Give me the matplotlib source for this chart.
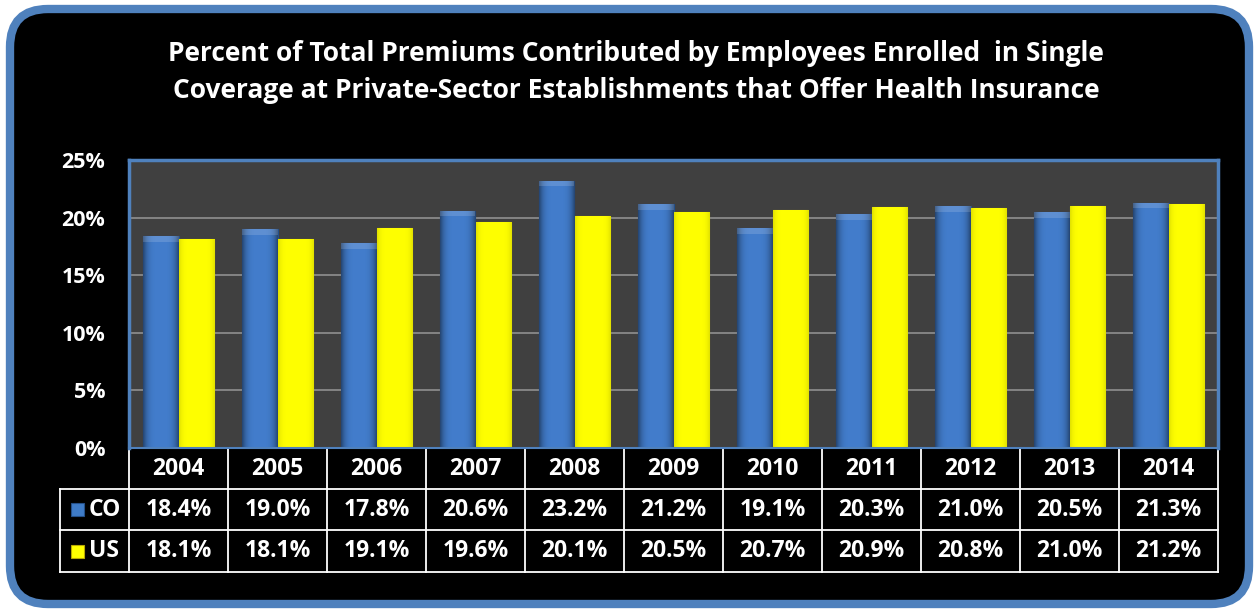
import numpy as np
import matplotlib.pyplot as plt
from matplotlib.patches import FancyBboxPatch, Rectangle

years = ['2004', '2005', '2006', '2007', '2008', '2009', '2010', '2011', '2012', '2013', '2014']
co = [18.4, 19.0, 17.8, 20.6, 23.2, 21.2, 19.1, 20.3, 21.0, 20.5, 21.3]
us = [18.1, 18.1, 19.1, 19.6, 20.1, 20.5, 20.7, 20.9, 20.8, 21.0, 21.2]
series = ['CO', 'US']
title = ('Percent of Total Premiums Contributed by Employees Enrolled  in Single\n'
         'Coverage at Private-Sector Establishments that Offer Health Insurance')

plt.rcParams['font.family'] = ['Open Sans', 'DejaVu Sans']
plt.rcParams['font.weight'] = 'bold'

W, H = 1259, 614
fig = plt.figure(figsize=(W / 100, H / 100), dpi=100, facecolor='white')

# background canvas in pixel units
bg = fig.add_axes([0, 0, 1, 1])
bg.set_xlim(0, W)
bg.set_ylim(H, 0)
bg.axis('off')
bg.add_patch(FancyBboxPatch((10, 9), W - 20, H - 19,
                            boxstyle='round,pad=0,rounding_size=38',
                            fc='black', ec='#4f81bd', lw=6))
bg.text(636, 72, title, ha='center', va='center', color='white',
        fontsize=19, fontweight='bold', linespacing=1.5)

# plot area
left, right, top, bottom = 129, 1218, 160, 448
ax = fig.add_axes([left / W, 1 - bottom / H, (right - left) / W, (bottom - top) / H])
ax.set_facecolor('#404040')
for s in ax.spines.values():
    s.set_color('#4f81bd')
    s.set_linewidth(2.5)
ax.spines['bottom'].set_linewidth(1.5)
ax.set_yticks(np.arange(0, 26, 5))
ax.set_yticklabels([f'{v}%' for v in range(0, 26, 5)], color='white', fontsize=15.5)
ax.tick_params(axis='y', length=0, pad=17)
ax.set_xticks([])
ax.grid(axis='y', color='#8a8a8a', lw=1.3)
ax.set_axisbelow(True)

x = np.arange(len(years))
bw = 0.36
blue_bars = ax.bar(x - bw / 2, co, bw, color='#3f7cc8', edgecolor='#24508a', lw=0.8, zorder=2)
yel_bars = ax.bar(x + bw / 2, us, bw, color='#ffff00', edgecolor='#b8a800', lw=0.8, zorder=2)

# horizontal shading across each bar
t = np.linspace(0, 1, 64)
shade = 1 - 0.45 * (2 * t - 1) ** 4
for bars, base in ((blue_bars, np.array([0.26, 0.49, 0.80])),
                   (yel_bars, np.array([1.0, 1.0, 0.0]))):
    for b in bars:
        if base[2] > 0:
            img = np.clip(base[None, None, :] * shade[None, :, None], 0, 1)
        else:
            img = np.ones((1, 64, 3)) * base
            img[..., :2] *= (1 - 0.12 * (2 * t - 1) ** 6)[None, :, None]
        x0, y0 = b.get_x(), b.get_y()
        im = ax.imshow(img, extent=(x0, x0 + b.get_width(), y0, y0 + b.get_height()),
                       aspect='auto', zorder=2.5, interpolation='bicubic')
        im.set_clip_path(b)
        # lighter bevel at the top of the blue bars
        if base[2] > 0:
            ax.add_patch(Rectangle((x0, b.get_height() - 0.5), b.get_width(), 0.5,
                                   fc='white', alpha=0.15, lw=0, zorder=2.6))
ax.set_xlim(-0.5, len(years) - 0.5)
ax.set_ylim(0, 25)

# data table under the plot
col_w = (right - left) / len(years)
rows = [449, 489, 530, 572]
tleft = 60
lc = 'white'
bg.plot([left, left], [bottom, rows[3]], color=lc, lw=1.3)
for i in range(len(years)):
    xe = left + col_w * (i + 1)
    bg.plot([xe, xe], [bottom, rows[3]], color=lc, lw=1.3)
for r in rows[1:]:
    bg.plot([tleft, right], [r, r], color=lc, lw=1.3)
bg.plot([tleft, tleft], [rows[1], rows[3]], color=lc, lw=1.3)

fs = 16.5
for i, yr in enumerate(years):
    cx = left + col_w * (i + 0.5)
    bg.text(cx, (rows[0] + rows[1]) / 2, yr, ha='center', va='center', color='white', fontsize=fs)
    bg.text(cx, (rows[1] + rows[2]) / 2, f'{co[i]:.1f}%', ha='center', va='center', color='white', fontsize=fs)
    bg.text(cx, (rows[2] + rows[3]) / 2, f'{us[i]:.1f}%', ha='center', va='center', color='white', fontsize=fs)

for k, (name, fc, ec) in enumerate(zip(series, ['#3f7cc8', '#ffff00'], ['#24508a', '#b8a800'])):
    cy = (rows[k + 1] + rows[k + 2]) / 2
    bg.add_patch(Rectangle((71, cy - 6.5), 13, 13, fc=fc, ec=ec, lw=0.8))
    bg.text(89, cy, name, ha='left', va='center', color='white', fontsize=fs)

fig.savefig('out.png', dpi=100, facecolor='white')
